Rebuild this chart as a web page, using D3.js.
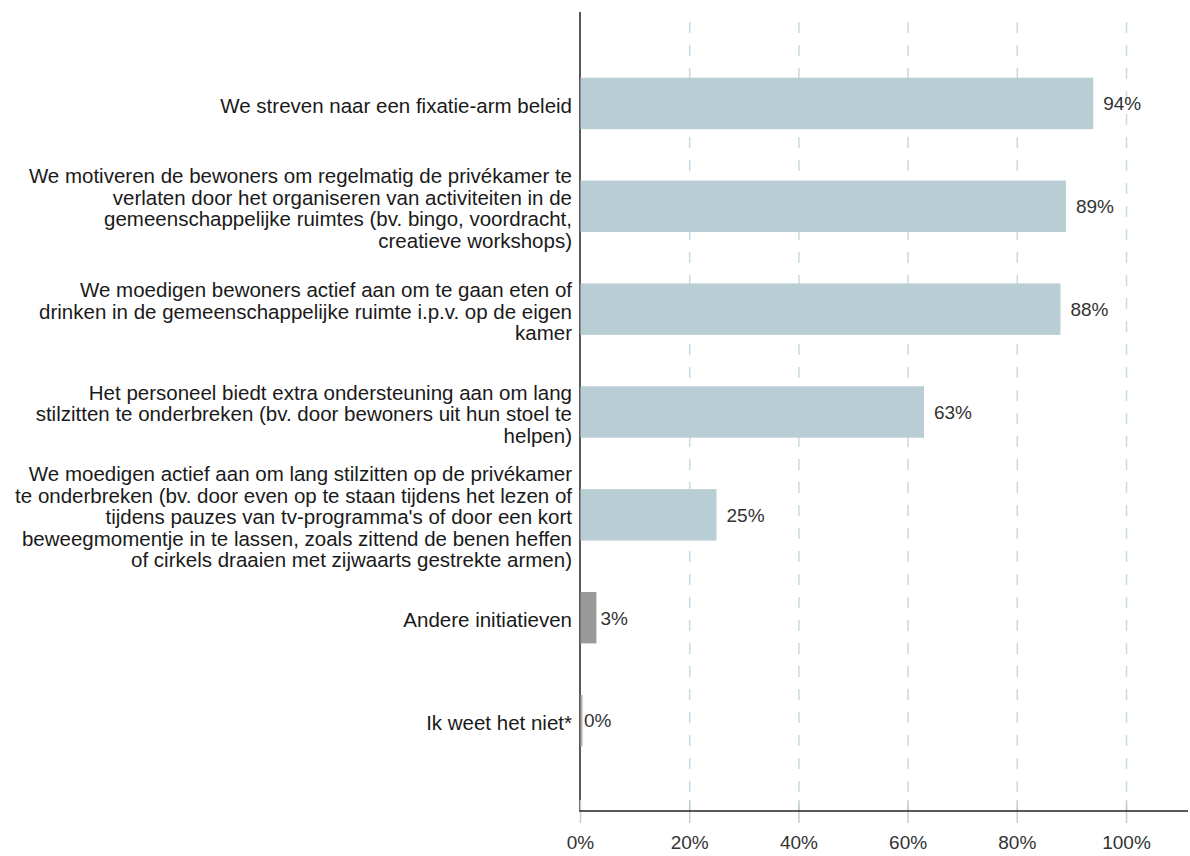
<!DOCTYPE html>
<html>
<head>
<meta charset="utf-8">
<script src="https://cdn.jsdelivr.net/npm/d3@7"></script>
<style>
  html, body { margin: 0; padding: 0; background: #fff; }
  svg { display: block; font-family: "Liberation Sans", Arial, sans-serif; }
</style>
</head>
<body>
<svg id="chart" width="1190" height="856"></svg>
<script>
// Survey answers: each category is stored as its wrapped label lines
const categories = [
  ["We streven naar een fixatie-arm beleid"],
  ["We motiveren de bewoners om regelmatig de privékamer te",
   "verlaten door het organiseren van activiteiten in de",
   "gemeenschappelijke ruimtes (bv. bingo, voordracht,",
   "creatieve workshops)"],
  ["We moedigen bewoners actief aan om te gaan eten of",
   "drinken in de gemeenschappelijke ruimte i.p.v. op de eigen",
   "kamer"],
  ["Het personeel biedt extra ondersteuning aan om lang",
   "stilzitten te onderbreken (bv. door bewoners uit hun stoel te",
   "helpen)"],
  ["We moedigen actief aan om lang stilzitten op de privékamer",
   "te onderbreken (bv. door even op te staan tijdens het lezen of",
   "tijdens pauzes van tv-programma's of door een kort",
   "beweegmomentje in te lassen, zoals zittend de benen heffen",
   "of cirkels draaien met zijwaarts gestrekte armen)"],
  ["Andere initiatieven"],
  ["Ik weet het niet*"]
];
const values = [94, 89, 88, 63, 25, 3, 0];
const barKinds = ["main", "main", "main", "main", "main", "other", "unknown"];
const xTicks = [0, 20, 40, 60, 80, 100];

const kindColor = { main: "#b9cdd4", other: "#999999", unknown: "#b0b0b0" };

const svg = d3.select("#chart");
const axisX0 = 580, axisXMax = 1188;
const plotTop = 12, axisY = 811;

const x = d3.scaleLinear().domain([0, 100]).range([axisX0, 1126]);
const y = d3.scaleBand()
  .domain(d3.range(categories.length))
  .range([52, 772])
  .paddingInner(0.5)
  .paddingOuter(0.25);

// dashed vertical gridlines
svg.append("g").selectAll("line")
  .data(xTicks.filter(t => t > 0))
  .join("line")
  .attr("x1", d => x(d) + 0.5).attr("x2", d => x(d) + 0.5)
  .attr("y1", 22).attr("y2", axisY)
  .attr("stroke", "#c8dae1")
  .attr("stroke-width", 1.5)
  .attr("stroke-dasharray", "11,12");

// y axis line
svg.append("line")
  .attr("x1", axisX0).attr("x2", axisX0)
  .attr("y1", plotTop).attr("y2", axisY)
  .attr("stroke", "#222").attr("stroke-width", 1.5);

// bars (a zero value still gets a thin sliver next to the axis)
svg.append("g").selectAll("rect")
  .data(values)
  .join("rect")
  .attr("x", x(0) + 0.5)
  .attr("y", (d, i) => y(i))
  .attr("width", d => Math.max(x(d) - x(0) - 0.5, 2))
  .attr("height", y.bandwidth())
  .attr("fill", (d, i) => kindColor[barKinds[i]]);

// value labels
svg.append("g").selectAll("text")
  .data(values)
  .join("text")
  .attr("x", d => x(d) + (d < 5 ? 4 : 10))
  .attr("y", (d, i) => y(i) + y.bandwidth() / 2)
  .attr("dy", "0.36em")
  .attr("font-size", 19)
  .attr("fill", "#333")
  .text(d => d + "%");

// category labels, right aligned against the axis
const lineH = 21.5;
const labelG = svg.append("g");
categories.forEach((lines, i) => {
  const cy = y(i) + y.bandwidth() / 2 + 2;
  const t = labelG.append("text")
    .attr("text-anchor", "end")
    .attr("font-size", 20.5)
    .attr("fill", "#1a1a1a");
  lines.forEach((ln, j) => {
    t.append("tspan")
      .attr("x", 572)
      .attr("y", cy + (j - (lines.length - 1) / 2) * lineH)
      .attr("dy", "0.36em")
      .text(ln);
  });
});

// x axis
const xAxis = d3.axisBottom(x)
  .tickValues(xTicks)
  .tickFormat(d => d + "%")
  .tickSize(0)
  .tickPadding(0);
const gx = svg.append("g")
  .attr("transform", `translate(0,${axisY})`)
  .call(xAxis);
gx.select(".domain").remove();
gx.selectAll(".tick").append("line")
  .attr("y1", -11).attr("y2", 12)
  .attr("stroke", "#c0cfd5").attr("stroke-width", 1.5);
gx.selectAll(".tick text")
  .attr("font-size", 19)
  .attr("font-family", "Liberation Sans, Arial, sans-serif")
  .attr("fill", "#333")
  .attr("y", 38)
  .attr("dy", 0);
svg.append("line")
  .attr("x1", axisX0 - 0.75).attr("x2", axisXMax)
  .attr("y1", axisY).attr("y2", axisY)
  .attr("stroke", "#222").attr("stroke-width", 1.5);
</script>
</body>
</html>
